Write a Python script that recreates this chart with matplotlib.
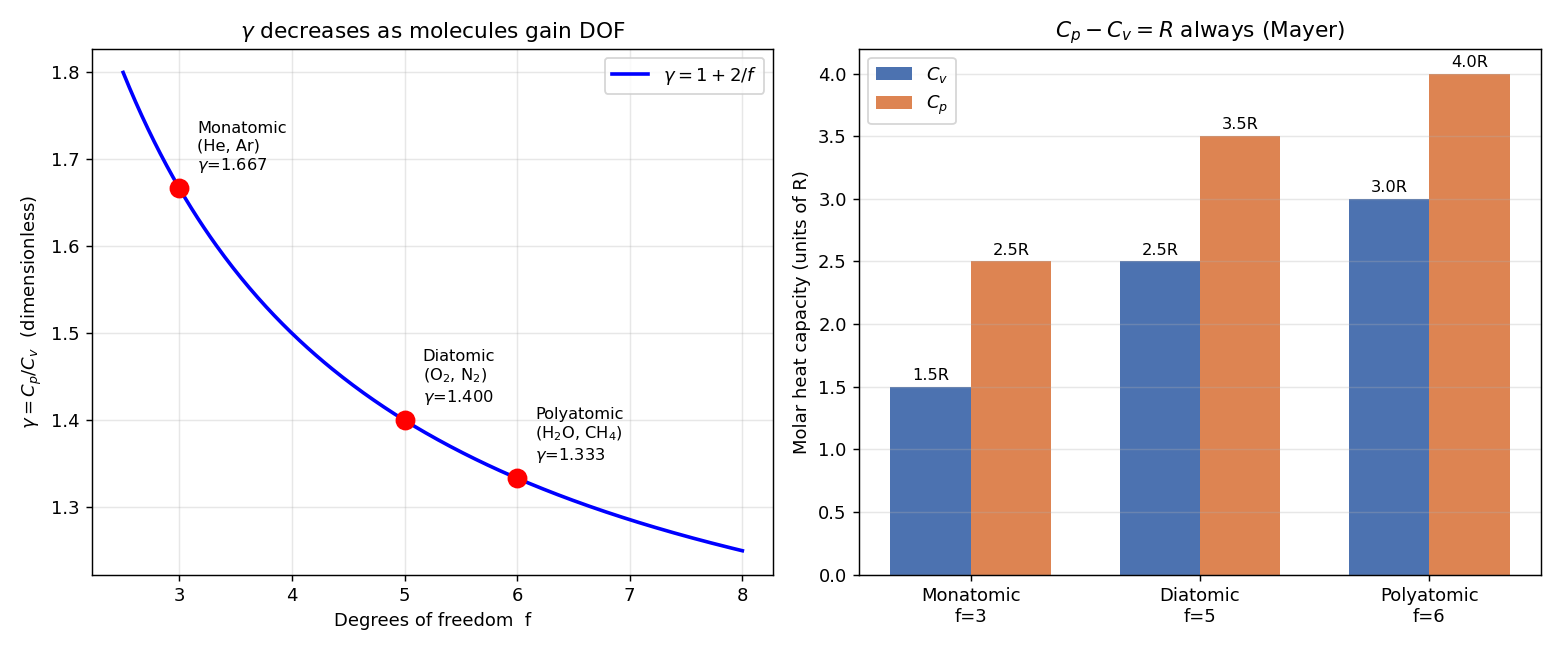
import numpy as np
import matplotlib
matplotlib.use("Agg")
import matplotlib.pyplot as plt

# data
gases = ["Monatomic", "Diatomic", "Polyatomic"]
species = ["(He, Ar)", "(O$_2$, N$_2$)", "(H$_2$O, CH$_4$)"]
dof = [3, 5, 6]
cv = [1.5, 2.5, 3.0]
cp = [2.5, 3.5, 4.0]

f = np.linspace(2.5, 8, 300)
gamma_curve = 1 + 2 / f

fig, (ax1, ax2) = plt.subplots(1, 2, figsize=(12, 5), dpi=130)

# left: gamma vs dof
ax1.plot(f, gamma_curve, color="blue", lw=2, label=r"$\gamma = 1 + 2/f$")
for name, sp, d in zip(gases, species, dof):
    g = 1 + 2 / d
    ax1.plot(d, g, "o", color="red", ms=10, zorder=5)
    ax1.text(d + 0.16, g + 0.015, f"{name}\n{sp}\n$\\gamma$={g:.3f}",
             fontsize=9, va="bottom")
ax1.set_xlabel("Degrees of freedom  f")
ax1.set_ylabel(r"$\gamma = C_p/C_v$  (dimensionless)")
ax1.set_title(r"$\gamma$ decreases as molecules gain DOF")
ax1.grid(alpha=0.3)
ax1.legend(loc="upper right")

# right: Cv and Cp bars
x = np.arange(len(gases))
w = 0.35
b1 = ax2.bar(x - w / 2, cv, w, color="#4C72B0", label="$C_v$")
b2 = ax2.bar(x + w / 2, cp, w, color="#DD8452", label="$C_p$")
for bars in (b1, b2):
    for b in bars:
        ax2.text(b.get_x() + b.get_width() / 2, b.get_height() + 0.03,
                 f"{b.get_height():.1f}R", ha="center", va="bottom", fontsize=9)
ax2.set_xticks(x)
ax2.set_xticklabels([f"{n}\nf={d}" for n, d in zip(gases, dof)])
ax2.set_ylabel("Molar heat capacity (units of R)")
ax2.set_title(r"$C_p - C_v = R$ always (Mayer)")
ax2.grid(axis="y", alpha=0.3)
ax2.legend(loc="upper left")

plt.tight_layout()
plt.savefig("out.png")
